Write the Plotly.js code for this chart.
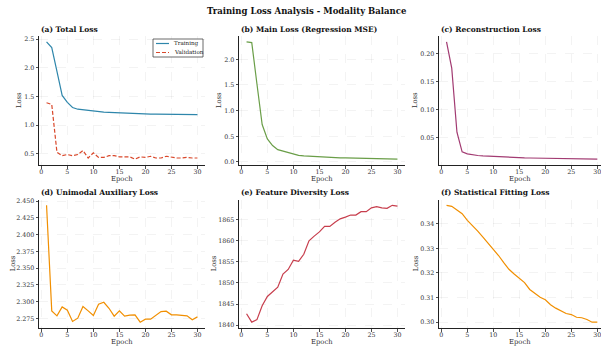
<!DOCTYPE html>
<html>
<head>
<meta charset="utf-8">
<script src="https://cdn.plot.ly/plotly-3.0.1.min.js"></script>
<style>html,body{margin:0;padding:0;background:#fff;}#chart{width:601px;height:347px;}</style>
</head>
<body>
<div id="chart"></div>
<script>
const epochs = [1,2,3,4,5,6,7,8,9,10,11,12,13,14,15,16,17,18,19,20,21,22,23,24,25,26,27,28,29,30];
const trainTotal = [2.453,2.354,1.94,1.52,1.40,1.31,1.28,1.27,1.25,1.24,1.235,1.23,1.225,1.22,1.215,1.21,1.21,1.205,1.20,1.195,1.195,1.195,1.195,1.195,1.19,1.19,1.19,1.19,1.185,1.185];
const valTotal = [1.392,1.363,0.53,0.47,0.49,0.47,0.49,0.56,0.43,0.52,0.44,0.44,0.47,0.47,0.45,0.45,0.45,0.41,0.45,0.44,0.46,0.43,0.43,0.46,0.44,0.43,0.43,0.44,0.43,0.43];
const mainLoss = [2.34,2.325,1.52,0.73,0.45,0.32,0.24,0.21,0.175,0.15,0.13,0.117,0.11,0.104,0.10,0.097,0.09,0.085,0.08,0.078,0.075,0.072,0.07,0.068,0.065,0.063,0.06,0.058,0.056,0.055];
const reconLoss = [0.2208,0.174,0.060,0.025,0.0214,0.0196,0.0185,0.0178,0.0172,0.0167,0.0161,0.0156,0.0152,0.0148,0.0145,0.0142,0.014,0.0138,0.0136,0.0134,0.0132,0.013,0.0129,0.0128,0.0127,0.0126,0.0125,0.0123,0.0122,0.012];
const unimodalLoss = [2.4436,2.2864,2.279,2.2923,2.2874,2.2706,2.2755,2.2928,2.2864,2.2795,2.2963,2.2992,2.2903,2.2785,2.2864,2.2785,2.28,2.2805,2.2696,2.274,2.274,2.2795,2.2854,2.2859,2.2805,2.2805,2.28,2.279,2.2731,2.2775];
const diversityLoss = [1842.7,1840.7,1841.3,1844.6,1846.8,1847.8,1849.0,1852.1,1853.2,1855.4,1855.1,1856.8,1860.0,1861.1,1862.1,1863.4,1863.4,1864.4,1865.2,1865.6,1866.1,1866.1,1866.9,1866.9,1867.8,1868.1,1867.8,1867.7,1868.4,1868.2];
const statFitLoss = [0.3475,0.3471,0.3456,0.3441,0.3414,0.3393,0.3370,0.3346,0.3321,0.3298,0.3271,0.3242,0.3215,0.3196,0.3178,0.3161,0.3133,0.3118,0.3101,0.3091,0.3071,0.3057,0.3046,0.3035,0.3031,0.3020,0.3018,0.3011,0.3000,0.3000];
const xTicks = [0,5,10,15,20,25,30];
const yTicksA = [0.5,1.0,1.5,2.0,2.5];
const yTicksB = [0.0,0.5,1.0,1.5,2.0];
const yTicksC = [0.05,0.10,0.15,0.20];
const yTicksD = [2.275,2.300,2.325,2.350,2.375,2.400,2.425,2.450];
const yTicksE = [1840,1845,1850,1855,1860,1865];
const yTicksF = [0.30,0.31,0.32,0.33,0.34];
const panelTitles = ["(a) Total Loss","(b) Main Loss (Regression MSE)","(c) Reconstruction Loss","(d) Unimodal Auxiliary Loss","(e) Feature Diversity Loss","(f) Statistical Fitting Loss"];
const seriesNames = ["Training","Validation"];
const mainTitle = "Training Loss Analysis - Modality Balance";

const W = 601, H = 347;
const FONT = "DejaVu Serif, serif";
const colX = [[39,205],[239,405],[439,601]];
const rowY = [[36,165],[199.5,328]];
const px = v => v / W;
const py = v => 1 - v / H;
const colors = ['#2E86AB','#D9482B','#6A9E48','#A23B72','#F18F01','#C73E4D','#F18F01'];

function padRange(arrs){
  let mn = Infinity, mx = -Infinity;
  arrs.forEach(a => a.forEach(v => { if (v < mn) mn = v; if (v > mx) mx = v; }));
  const p = (mx - mn) * 0.05;
  return [mn - p, mx + p];
}

const traces = [
  {x: epochs, y: trainTotal, name: seriesNames[0], xaxis:'x', yaxis:'y', line:{color:colors[0], width:1.2}, mode:'lines'},
  {x: epochs, y: valTotal, name: seriesNames[1], xaxis:'x', yaxis:'y', line:{color:colors[1], width:1.2, dash:'4px,2px'}, mode:'lines'},
  {x: epochs, y: mainLoss, xaxis:'x2', yaxis:'y2', line:{color:colors[2], width:1.2}, mode:'lines'},
  {x: epochs, y: reconLoss, xaxis:'x3', yaxis:'y3', line:{color:colors[3], width:1.2}, mode:'lines'},
  {x: epochs, y: unimodalLoss, xaxis:'x4', yaxis:'y4', line:{color:colors[4], width:1.2}, mode:'lines'},
  {x: epochs, y: diversityLoss, xaxis:'x5', yaxis:'y5', line:{color:colors[5], width:1.2}, mode:'lines'},
  {x: epochs, y: statFitLoss, xaxis:'x6', yaxis:'y6', line:{color:colors[6], width:1.2}, mode:'lines'}
];

const yCfg = [
  {range: padRange([trainTotal, valTotal]), vals: yTicksA, dec: 1},
  {range: padRange([mainLoss]), vals: yTicksB, dec: 1},
  {range: padRange([reconLoss]), vals: yTicksC, dec: 2},
  {range: padRange([unimodalLoss]), vals: yTicksD, dec: 3},
  {range: padRange([diversityLoss]), vals: yTicksE, dec: 0},
  {range: padRange([statFitLoss]), vals: yTicksF, dec: 2}
];

const TICKFONT = {family: FONT, size: 6.3, color: '#333'};
const layout = {
  width: W, height: H,
  margin: {l:0, r:0, t:0, b:0},
  paper_bgcolor: '#fff', plot_bgcolor: '#fff',
  font: {family: FONT, size: 6.3, color: '#333'},
  showlegend: false,
  annotations: [],
  shapes: []
};

const titleLeftX = [39, 239, 439];
for (let i = 0; i < 6; i++) {
  const r = Math.floor(i / 3), c = i % 3;
  const xs = i === 0 ? '' : String(i + 1);
  const xr = c === 2 ? [-0.45, -0.45 + (colX[c][1] - colX[c][0]) / 5.2] : [-0.45, 31.45];
  layout['xaxis' + xs] = {
    domain: [px(colX[c][0]), px(colX[c][1])],
    anchor: 'y' + xs, range: xr,
    tickmode: 'array', tickvals: xTicks, ticktext: xTicks.map(String),
    ticks: 'outside', ticklen: 2.5, tickwidth: 0.8, tickcolor: '#222',
    ticklabelstandoff: -2, ticklabeloverflow: 'allow',
    showline: true, linecolor: '#222', linewidth: 1,
    showgrid: true, gridcolor: 'rgba(0,0,0,0.08)', gridwidth: 0.6, griddash: 'dash',
    zeroline: false, tickfont: TICKFONT
  };
  const yc = yCfg[i];
  layout['yaxis' + xs] = {
    domain: [py(rowY[r][1]), py(rowY[r][0])],
    anchor: 'x' + xs, range: yc.range,
    tickmode: 'array', tickvals: yc.vals, ticktext: yc.vals.map(v => v.toFixed(yc.dec)),
    ticks: 'outside', ticklen: 2.5, tickwidth: 0.8, tickcolor: '#222',
    showline: true, linecolor: '#222', linewidth: 1,
    showgrid: true, gridcolor: 'rgba(0,0,0,0.08)', gridwidth: 0.6, griddash: 'dash',
    zeroline: false, tickfont: TICKFONT
  };
  layout.annotations.push({
    text: '<b>' + panelTitles[i] + '</b>', xref: 'paper', yref: 'paper',
    x: px(titleLeftX[c]), y: py(rowY[r][0] - 7), xanchor: 'left', yanchor: 'middle',
    showarrow: false, font: {family: FONT, size: 7.5, color: '#111'}
  });
  layout.annotations.push({
    text: 'Epoch', xref: 'paper', yref: 'paper',
    x: px((colX[c][0] + Math.min(colX[c][1], colX[c][0] + 166)) / 2), y: py(rowY[r][1] + 14), xanchor: 'center', yanchor: 'middle',
    showarrow: false, font: {family: FONT, size: 6.8, color: '#333'}
  });
}
const lossX = [19.5, 219.5, 415.5, 12.5, 213.5, 415.5];
for (let i = 0; i < 6; i++) {
  const r = Math.floor(i / 3);
  layout.annotations.push({
    text: 'Loss', xref: 'paper', yref: 'paper', textangle: -90,
    x: px(lossX[i]), y: py((rowY[r][0] + rowY[r][1]) / 2), xanchor: 'center', yanchor: 'middle',
    showarrow: false, font: {family: FONT, size: 6.8, color: '#333'}
  });
}
layout.annotations.push({
  text: '<b>' + mainTitle + '</b>', xref: 'paper', yref: 'paper',
  x: px(307), y: py(11), xanchor: 'center', yanchor: 'middle',
  showarrow: false, font: {family: FONT, size: 8.5, color: '#111'}
});

// compact legend for panel (a)
const lg = {x0: 153, x1: 203, y0: 39, y1: 57};
layout.shapes.push({type:'rect', xref:'paper', yref:'paper', x0:px(lg.x0), x1:px(lg.x1), y0:py(lg.y1), y1:py(lg.y0),
  line:{color:'#444', width:0.8}, fillcolor:'#fff', layer:'above'});
const legRows = [43.5, 52.5];
for (let k = 0; k < 2; k++) {
  layout.shapes.push({type:'line', xref:'paper', yref:'paper', x0:px(156), x1:px(169), y0:py(legRows[k]), y1:py(legRows[k]),
    line:{color:colors[k], width:1.2, dash: k === 1 ? '4px,2px' : 'solid'}, layer:'above'});
  layout.annotations.push({text: seriesNames[k], xref:'paper', yref:'paper', x:px(172), y:py(legRows[k]),
    xanchor:'left', yanchor:'middle', showarrow:false, font:{family: FONT, size: 5.6, color:'#222'}});
}

Plotly.newPlot('chart', traces, layout, {displayModeBar: false, staticPlot: true});
</script>
</body>
</html>
